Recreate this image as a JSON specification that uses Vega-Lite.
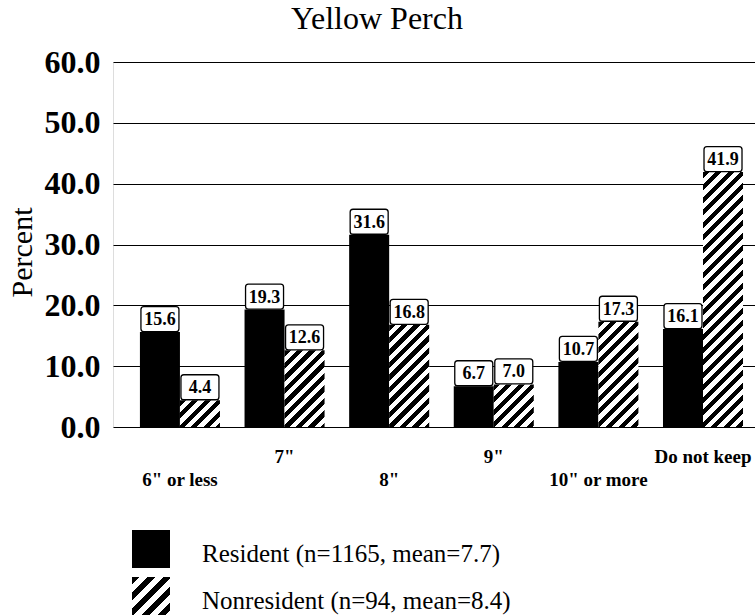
{
  "$schema": "https://vega.github.io/schema/vega-lite/v6.json",
  "width": 642,
  "height": 365,
  "autosize": {"type": "none"},
  "padding": {"left": 113, "top": 62, "right": 0, "bottom": 189},
  "background": "white",
  "params": [
    {"name": "stripes", "value": [
      {"offset": 0, "color": "#000"}, {"offset": 0.02, "color": "#000"}, {"offset": 0.02, "color": "#fff"}, {"offset": 0.04, "color": "#fff"},
      {"offset": 0.04, "color": "#000"}, {"offset": 0.06, "color": "#000"}, {"offset": 0.06, "color": "#fff"}, {"offset": 0.08, "color": "#fff"},
      {"offset": 0.08, "color": "#000"}, {"offset": 0.10, "color": "#000"}, {"offset": 0.10, "color": "#fff"}, {"offset": 0.12, "color": "#fff"},
      {"offset": 0.12, "color": "#000"}, {"offset": 0.14, "color": "#000"}, {"offset": 0.14, "color": "#fff"}, {"offset": 0.16, "color": "#fff"},
      {"offset": 0.16, "color": "#000"}, {"offset": 0.18, "color": "#000"}, {"offset": 0.18, "color": "#fff"}, {"offset": 0.20, "color": "#fff"},
      {"offset": 0.20, "color": "#000"}, {"offset": 0.22, "color": "#000"}, {"offset": 0.22, "color": "#fff"}, {"offset": 0.24, "color": "#fff"},
      {"offset": 0.24, "color": "#000"}, {"offset": 0.26, "color": "#000"}, {"offset": 0.26, "color": "#fff"}, {"offset": 0.28, "color": "#fff"},
      {"offset": 0.28, "color": "#000"}, {"offset": 0.30, "color": "#000"}, {"offset": 0.30, "color": "#fff"}, {"offset": 0.32, "color": "#fff"},
      {"offset": 0.32, "color": "#000"}, {"offset": 0.34, "color": "#000"}, {"offset": 0.34, "color": "#fff"}, {"offset": 0.36, "color": "#fff"},
      {"offset": 0.36, "color": "#000"}, {"offset": 0.38, "color": "#000"}, {"offset": 0.38, "color": "#fff"}, {"offset": 0.40, "color": "#fff"},
      {"offset": 0.40, "color": "#000"}, {"offset": 0.42, "color": "#000"}, {"offset": 0.42, "color": "#fff"}, {"offset": 0.44, "color": "#fff"},
      {"offset": 0.44, "color": "#000"}, {"offset": 0.46, "color": "#000"}, {"offset": 0.46, "color": "#fff"}, {"offset": 0.48, "color": "#fff"},
      {"offset": 0.48, "color": "#000"}, {"offset": 0.50, "color": "#000"}, {"offset": 0.50, "color": "#fff"}, {"offset": 0.52, "color": "#fff"},
      {"offset": 0.52, "color": "#000"}, {"offset": 0.54, "color": "#000"}, {"offset": 0.54, "color": "#fff"}, {"offset": 0.56, "color": "#fff"},
      {"offset": 0.56, "color": "#000"}, {"offset": 0.58, "color": "#000"}, {"offset": 0.58, "color": "#fff"}, {"offset": 0.60, "color": "#fff"},
      {"offset": 0.60, "color": "#000"}, {"offset": 0.62, "color": "#000"}, {"offset": 0.62, "color": "#fff"}, {"offset": 0.64, "color": "#fff"},
      {"offset": 0.64, "color": "#000"}, {"offset": 0.66, "color": "#000"}, {"offset": 0.66, "color": "#fff"}, {"offset": 0.68, "color": "#fff"},
      {"offset": 0.68, "color": "#000"}, {"offset": 0.70, "color": "#000"}, {"offset": 0.70, "color": "#fff"}, {"offset": 0.72, "color": "#fff"},
      {"offset": 0.72, "color": "#000"}, {"offset": 0.74, "color": "#000"}, {"offset": 0.74, "color": "#fff"}, {"offset": 0.76, "color": "#fff"},
      {"offset": 0.76, "color": "#000"}, {"offset": 0.78, "color": "#000"}, {"offset": 0.78, "color": "#fff"}, {"offset": 0.80, "color": "#fff"},
      {"offset": 0.80, "color": "#000"}, {"offset": 0.82, "color": "#000"}, {"offset": 0.82, "color": "#fff"}, {"offset": 0.84, "color": "#fff"},
      {"offset": 0.84, "color": "#000"}, {"offset": 0.86, "color": "#000"}, {"offset": 0.86, "color": "#fff"}, {"offset": 0.88, "color": "#fff"},
      {"offset": 0.88, "color": "#000"}, {"offset": 0.90, "color": "#000"}, {"offset": 0.90, "color": "#fff"}, {"offset": 0.92, "color": "#fff"},
      {"offset": 0.92, "color": "#000"}, {"offset": 0.94, "color": "#000"}, {"offset": 0.94, "color": "#fff"}, {"offset": 0.96, "color": "#fff"},
      {"offset": 0.96, "color": "#000"}, {"offset": 0.98, "color": "#000"}, {"offset": 0.98, "color": "#fff"}, {"offset": 1, "color": "#fff"}
    ]}
  ],
  "title": {
    "text": "Yellow Perch",
    "font": "Liberation Serif",
    "fontSize": 32,
    "fontWeight": "normal",
    "color": "black",
    "anchor": "middle",
    "frame": "group",
    "dx": -57,
    "baseline": "alphabetic",
    "offset": -15
  },
  "data": {
    "values": [
      {"cat": "6\" or less", "type": "Resident", "percent": 15.6},
      {"cat": "6\" or less", "type": "Nonresident", "percent": 4.4},
      {"cat": "7\"", "type": "Resident", "percent": 19.3},
      {"cat": "7\"", "type": "Nonresident", "percent": 12.6},
      {"cat": "8\"", "type": "Resident", "percent": 31.6},
      {"cat": "8\"", "type": "Nonresident", "percent": 16.8},
      {"cat": "9\"", "type": "Resident", "percent": 6.7},
      {"cat": "9\"", "type": "Nonresident", "percent": 7.0},
      {"cat": "10\" or more", "type": "Resident", "percent": 10.7},
      {"cat": "10\" or more", "type": "Nonresident", "percent": 17.3},
      {"cat": "Do not keep", "type": "Resident", "percent": 16.1},
      {"cat": "Do not keep", "type": "Nonresident", "percent": 41.9}
    ]
  },
  "encoding": {
    "x": {
      "field": "cat", "type": "nominal", "sort": null,
      "scale": {"paddingInner": 0.235, "paddingOuter": 0.186, "align": 0.692},
      "axis": {
        "title": null, "labelAngle": 0, "domain": false, "ticks": false,
        "labelFont": "Liberation Serif", "labelFontSize": 19, "labelFontWeight": "bold",
        "labelColor": "black", "labelPadding": 20, "labelBaseline": "top", "labelLineHeight": 23,
        "labelOverlap": false, "labelLimit": 300,
        "labelExpr": "round(datum.index*5) % 2 === 0 ? ['', datum.label] : datum.label"
      }
    },
    "xOffset": {"field": "type", "type": "nominal", "sort": ["Resident", "Nonresident"], "scale": {"paddingInner": 0, "paddingOuter": 0}},
    "y": {
      "field": "percent", "type": "quantitative",
      "scale": {"domain": [0, 60], "nice": false},
      "axis": {
        "values": [0, 10, 20, 30, 40, 50, 60], "format": ".1f",
        "domain": false, "ticks": false, "grid": true, "gridColor": "black", "gridWidth": 1, "gridOpacity": 1,
        "labelFont": "Liberation Serif", "labelFontSize": 32, "labelFontWeight": "bold", "labelColor": "black",
        "labelPadding": 13,
        "title": "Percent", "titleFont": "Liberation Serif", "titleFontSize": 30, "titleFontWeight": "normal",
        "titleColor": "black", "titleX": -91, "titleY": 190, "titleAngle": 270, "titleBaseline": "middle", "titleAlign": "center"
      }
    }
  },
  "layer": [
    {
      "mark": {"type": "bar"},
      "encoding": {
        "fill": {
          "field": "type", "type": "nominal",
          "scale": {"domain": ["Resident", "Nonresident"], "range": ["#000000", {"expr": "{gradient: 'linear', x1: 0, y1: 0, x2: 5.26, y2: 5.26, stops: stripes}"}]},
          "condition": {
            "test": "datum.type === 'Nonresident'",
            "value": {"expr": "{gradient: 'linear', x1: 0, y1: 0, x2: 12500/(1600 + pow(datum.percent*365/60, 2)), y2: 312.5*(datum.percent*365/60)/(1600 + pow(datum.percent*365/60, 2)), stops: stripes}"}
          },
          "legend": {
            "title": null, "orient": "none", "legendX": 19, "legendY": 468, "direction": "vertical",
            "symbolType": "square", "symbolSize": 1444, "symbolStrokeWidth": 0, "symbolOpacity": 1,
            "labelFont": "Liberation Serif", "labelFontSize": 25, "labelColor": "black", "labelOffset": 32,
            "labelLimit": 600, "rowPadding": 9, "padding": 0,
            "labelExpr": "datum.value === 'Resident' ? 'Resident (n=1165, mean=7.7)' : 'Nonresident (n=94, mean=8.4)'",
            "encode": {
              "labels": {"update": {"dy": {"value": 5}}}
            }
          }
        }
      }
    },
    {
      "mark": {
        "type": "point", "filled": true, "fill": "white", "stroke": "black", "strokeWidth": 1.3, "opacity": 1,
        "shape": "M -0.85 -0.658 L 0.85 -0.658 Q 1 -0.658 1 -0.508 L 1 0.508 Q 1 0.658 0.85 0.658 L -0.85 0.658 Q -1 0.658 -1 0.508 L -1 -0.508 Q -1 -0.658 -0.85 -0.658 Z",
        "size": 1444, "yOffset": -13
      },
      "encoding": {}
    },
    {
      "mark": {
        "type": "text", "font": "Liberation Serif", "fontSize": 18, "fontWeight": "bold", "color": "black",
        "baseline": "middle", "align": "center", "yOffset": -12
      },
      "encoding": {"text": {"field": "percent", "type": "quantitative", "format": ".1f"}}
    }
  ]
}
